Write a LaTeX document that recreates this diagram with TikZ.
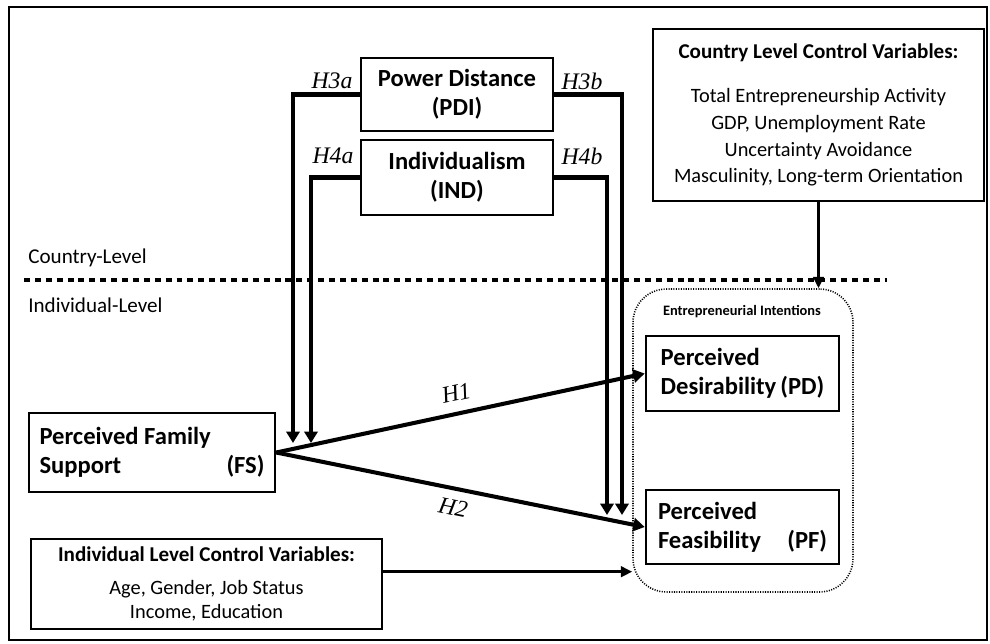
\documentclass[tikz,border=0pt]{standalone}
\usepackage{fontspec}
\setmainfont{Carlito}
\newfontfamily\hypfont{Liberation Serif}
\usetikzlibrary{arrows.meta}

\begin{document}
\begin{tikzpicture}[x=0.02cm, y=-0.02cm,
	box/.style={draw, line width=1.5pt, inner sep=0pt, font=\fontsize{14}{16.4}\selectfont\bfseries},
	ctrlbox/.style={draw, line width=1.5pt, inner sep=0pt, align=center, font=\fontsize{11.6}{15.3}\selectfont},
	hyp/.style={font=\fontsize{13.5}{16}\selectfont\hypfont\itshape, inner sep=1pt},
	arr/.style={line width=2.3pt, -{Triangle[length=6.5pt, width=7.5pt]}},
	ctrlarr/.style={line width=1.7pt, -{Triangle[length=6.5pt, width=6pt]}},
	levellab/.style={anchor=west, inner sep=0pt, font=\fontsize{12}{14}\selectfont}]
	\useasboundingbox (0,0) rectangle (990,643);
	% outer frame
	\draw[line width=1.4pt] (9,7) rectangle (987,640);
	% moderators
	\node[box, align=center, minimum width=3.84cm, minimum height=1.46cm] (pdi) at (457,94.5) {Power Distance\\(PDI)};
	\node[box, align=center, minimum width=3.84cm, minimum height=1.5cm] (ind) at (457,177.5) {Individualism\\(IND)};
	\node[hyp] (h3a) at (332,81) {H3a};
	\node[hyp] (h3b) at (582,81) {H3b};
	\node[hyp] (h4a) at (333,156) {H4a};
	\node[hyp] (h4b) at (582,156) {H4b};
	% country level controls
	\node[ctrlbox, minimum width=6.62cm, minimum height=3.44cm] (cctrl) at (818.5,115)
		{{\fontsize{12}{15.3}\selectfont\bfseries Country Level Control Variables:}\\[9.7pt]
		Total Entrepreneurship Activity\\ GDP, Unemployment Rate\\ Uncertainty Avoidance\\ Masculinity, Long-term Orientation};
	% level split
	\node[levellab] (clevel) at (28,258) {Country-Level};
	\draw[line width=2.3pt, dash pattern=on 3.4pt off 2.8pt] (24,280) -- (887,280);
	\node[levellab] (ilevel) at (28,305) {Individual-Level};
	% entrepreneurial intentions
	\node[draw, line width=0.9pt, dash pattern=on 0.6pt off 0.8pt, rounded corners=19pt,
		minimum width=4.4cm, minimum height=6.06cm] (ei) at (743,440.5) {};
	\node[font=\fontsize{8.2}{10}\selectfont\bfseries] (eilab) at (742,312) {Entrepreneurial Intentions};
	\node[box, align=left, minimum width=3.86cm, minimum height=1.5cm] (pd) at (742.5,373.5) {Perceived\\Desirability\,(PD)};
	\node[box, align=left, minimum width=3.86cm, minimum height=1.48cm] (pf) at (742.5,527) {Perceived\\\makebox[3.38cm][l]{Feasibility\hfill(PF)}};
	% family support
	\node[box, align=left, minimum width=4.92cm, minimum height=1.58cm] (fs) at (152,452.5) {Perceived Family\\\makebox[4.5cm][l]{Support\hfill(FS)}};
	% individual level controls
	\node[ctrlbox, font=\fontsize{11.6}{13.8}\selectfont, minimum width=7.02cm, minimum height=1.8cm] (ictrl) at (206.5,584)
		{{\fontsize{12}{15.3}\selectfont\bfseries Individual Level Control Variables:}\\[5pt]
		Age, Gender, Job Status\\ Income, Education};
	% hypotheses
	\coordinate (h3aend) at (293,443);
	\coordinate (h4aend) at (311,443);
	\coordinate (h3bend) at (622,515);
	\coordinate (h4bend) at (607,515);
	\draw[arr] (pdi.west) -| (h3aend);
	\draw[arr] (ind.west) -| (h4aend);
	\draw[arr] (pdi.east) -| (h3bend);
	\draw[arr] (ind.east) -| (h4bend);
	\draw[arr] (fs.east) -- node[hyp, sloped, above=5pt, pos=0.5] (h1) {H1} (pd.west);
	\draw[arr] (fs.east) -- node[hyp, sloped, below=4pt, pos=0.49] (h2) {H2} (pf.west);
	% controls
	\draw[ctrlarr] (cctrl.south) -- (cctrl.south |- ei.north);
	\draw[ctrlarr] ([yshift=7pt]ictrl.east) -- ([yshift=7pt]ictrl.east -| ei.west);
\end{tikzpicture}
\end{document}
